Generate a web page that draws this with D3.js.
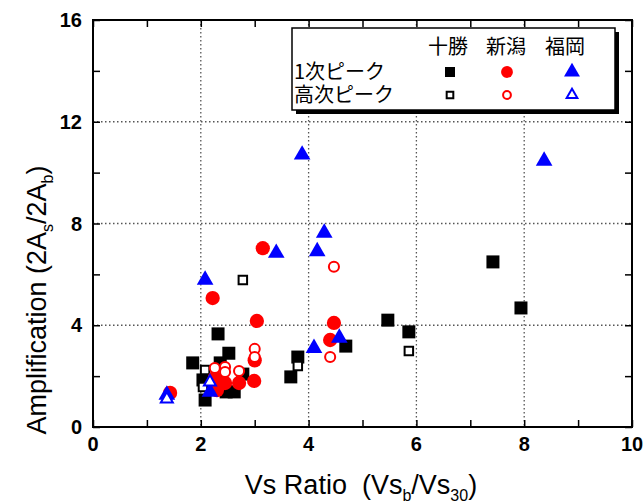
<!DOCTYPE html>
<html>
<head>
<meta charset="utf-8">
<script src="https://cdn.jsdelivr.net/npm/d3@7"></script>
<style>
  body { margin: 0; background: #fff; }
  text { font-family: "Liberation Sans", Arial, sans-serif; }
  .jp { font-family: "Noto Sans CJK JP", sans-serif; }
</style>
</head>
<body>
<svg id="chart" width="644" height="504"></svg>
<script>
// 十勝 1次ピーク (filled squares)
var tokachiPrimary = [
  [7.42, 6.49], [7.94, 4.68], [5.47, 4.20], [5.86, 3.74], [4.69, 3.18],
  [3.80, 2.75], [3.67, 1.97], [1.85, 2.52], [2.32, 3.66], [2.52, 2.90],
  [2.36, 2.52], [2.78, 2.08], [2.08, 1.06], [2.47, 1.38], [2.62, 1.38],
  [2.04, 1.85], [2.30, 1.75]
];
// 十勝 高次ピーク (open squares)
var tokachiHigher = [
  [2.78, 5.78], [5.86, 2.99], [3.80, 2.40], [2.08, 2.24], [2.04, 1.57]
];
// 新潟 1次ピーク (filled circles)
var niigataPrimary = [
  [3.15, 7.03], [2.22, 5.07], [3.04, 4.17], [4.47, 4.09], [4.40, 3.42],
  [2.99, 1.81], [2.71, 1.73], [2.45, 1.73], [2.26, 1.93], [2.30, 1.45],
  [1.43, 1.34], [3.00, 2.62]
];
// 新潟 高次ピーク (open circles)
var niigataHigher = [
  [4.47, 6.30], [4.40, 2.75], [3.00, 3.07], [3.00, 2.75], [2.26, 2.32],
  [2.45, 2.36], [2.45, 2.16], [2.71, 2.20]
];
// 福岡 1次ピーク (filled triangles)
var fukuokaPrimary = [
  [3.88, 10.70], [8.37, 10.46], [2.08, 5.78], [3.40, 6.84], [4.29, 7.63],
  [4.16, 6.90], [4.10, 3.10], [4.57, 3.50], [2.17, 1.38], [1.37, 1.26]
];
// 福岡 高次ピーク (open triangles)
var fukuokaHigher = [
  [2.17, 1.77], [1.37, 1.10]
];

var xTicks = [0, 2, 4, 6, 8, 10];
var yTicks = [0, 4, 8, 12, 16];
var regions = ['十勝', '新潟', '福岡'];
var peakLabels = ['1次ピーク', '高次ピーク'];

var svg = d3.select('#chart');
var plotL = 93, plotR = 632, plotT = 20, plotB = 427;

var x = d3.scaleLinear().domain([0, 10]).range([plotL, plotR]);
var y = d3.scaleLinear().domain([0, 16]).range([plotB, plotT]);

// dotted grid
var grid = svg.append('g');
grid.selectAll('line.gx')
  .data([2, 4, 6, 8])
  .enter().append('line')
    .attr('x1', function(d) { return x(d); }).attr('x2', function(d) { return x(d); })
    .attr('y1', plotT).attr('y2', plotB)
    .attr('stroke', '#555').attr('stroke-width', 1.3).attr('stroke-dasharray', '1.5,2.5');
grid.selectAll('line.gy')
  .data([4, 8, 12])
  .enter().append('line')
    .attr('y1', function(d) { return y(d); }).attr('y2', function(d) { return y(d); })
    .attr('x1', plotL).attr('x2', plotR)
    .attr('stroke', '#555').attr('stroke-width', 1.3).attr('stroke-dasharray', '1.5,2.5');

// axes with inward ticks on all four sides
var xMinor = d3.range(0, 11, 1), yMinor = d3.range(0, 17, 2);
svg.append('g').attr('transform', 'translate(0,' + plotB + ')')
  .call(d3.axisBottom(x).tickValues(xMinor).tickSize(-7).tickFormat(''));
svg.append('g').attr('transform', 'translate(0,' + plotT + ')')
  .call(d3.axisTop(x).tickValues(xMinor).tickSize(-7).tickFormat(''));
svg.append('g').attr('transform', 'translate(' + plotL + ',0)')
  .call(d3.axisLeft(y).tickValues(yMinor).tickSize(-7).tickFormat(''));
svg.append('g').attr('transform', 'translate(' + plotR + ',0)')
  .call(d3.axisRight(y).tickValues(yMinor).tickSize(-7).tickFormat(''));
svg.selectAll('.domain').remove();
svg.selectAll('.tick line').attr('stroke', '#000').attr('stroke-width', 1.5);

svg.append('rect')
  .attr('x', plotL).attr('y', plotT)
  .attr('width', plotR - plotL).attr('height', plotB - plotT)
  .attr('fill', 'none').attr('stroke', '#000').attr('stroke-width', 2);

// tick labels
svg.selectAll('text.xt')
  .data(xTicks)
  .enter().append('text')
    .attr('x', function(d) { return x(d); })
    .attr('y', 451)
    .attr('text-anchor', 'middle')
    .attr('font-size', 20).attr('font-weight', 'bold')
    .text(function(d) { return d; });
svg.selectAll('text.yt')
  .data(yTicks)
  .enter().append('text')
    .attr('x', 82)
    .attr('y', function(d) { return y(d) + 7; })
    .attr('text-anchor', 'end')
    .attr('font-size', 20).attr('font-weight', 'bold')
    .text(function(d) { return d; });

// axis titles
var xt = svg.append('text')
  .attr('x', 361).attr('y', 494)
  .attr('text-anchor', 'middle').attr('font-size', 27);
xt.append('tspan').text('Vs Ratio\u00a0\u00a0(Vs');
xt.append('tspan').attr('font-size', 16).attr('dy', 7).text('b');
xt.append('tspan').attr('dy', -7).text('/Vs');
xt.append('tspan').attr('font-size', 16).attr('dy', 7).text('30');
xt.append('tspan').attr('dy', -7).text(')');

var yt = svg.append('text')
  .attr('transform', 'translate(46,300) rotate(-90)')
  .attr('text-anchor', 'middle').attr('font-size', 27);
yt.append('tspan').text('Amplification\u00a0(2A');
yt.append('tspan').attr('font-size', 16).attr('dy', 7).text('s');
yt.append('tspan').attr('dy', -7).text('/2A');
yt.append('tspan').attr('font-size', 16).attr('dy', 7).text('b');
yt.append('tspan').attr('dy', -7).text(')');

// markers
var styles = [
  { data: tokachiPrimary, type: d3.symbolSquare, size: 169, fill: '#000', stroke: 'none' },
  { data: tokachiHigher, type: d3.symbolSquare, size: 72, fill: '#fff', stroke: '#000' },
  { data: niigataPrimary, type: d3.symbolCircle, size: 160, fill: '#f00', stroke: 'none' },
  { data: niigataHigher, type: d3.symbolCircle, size: 80, fill: '#fff', stroke: '#f00' },
  { data: fukuokaPrimary, type: d3.symbolTriangle, size: 120, fill: '#00f', stroke: 'none' },
  { data: fukuokaHigher, type: d3.symbolTriangle, size: 62, fill: '#fff', stroke: '#00f' }
];

var marks = svg.append('g');
styles.forEach(function(s) {
  marks.selectAll(null)
    .data(s.data)
    .enter().append('path')
      .attr('d', d3.symbol().type(s.type).size(s.size))
      .attr('transform', function(d) { return 'translate(' + x(d[0]) + ',' + y(d[1]) + ')'; })
      .attr('fill', s.fill)
      .attr('stroke', s.stroke)
      .attr('stroke-width', 2);
});

// legend
var lg = svg.append('g');
lg.append('rect').attr('x', 296).attr('y', 32).attr('width', 323).attr('height', 82).attr('fill', '#000');
lg.append('rect').attr('x', 292).attr('y', 28).attr('width', 323).attr('height', 82)
  .attr('fill', '#fff').attr('stroke', '#000').attr('stroke-width', 1.5);

var colX = [448, 506, 565];
lg.selectAll('text.rg')
  .data(regions)
  .enter().append('text')
    .attr('class', 'jp')
    .attr('x', function(d, i) { return colX[i]; })
    .attr('y', 54)
    .attr('text-anchor', 'middle').attr('font-size', 20)
    .text(function(d) { return d; });
lg.selectAll('text.pk')
  .data(peakLabels)
  .enter().append('text')
    .attr('class', 'jp')
    .attr('x', 294)
    .attr('y', function(d, i) { return 79 + i * 23; })
    .attr('font-size', 20)
    .text(function(d) { return d; });

var legendSizes = [100, 44, 110, 48, 110, 50];
var markX = [450, 507, 572];
styles.forEach(function(s, i) {
  var col = Math.floor(i / 2), row = i % 2;
  lg.append('path')
    .attr('d', d3.symbol().type(s.type).size(legendSizes[i]))
    .attr('transform', 'translate(' + markX[col] + ',' + (72 + row * 23) + ')')
    .attr('fill', s.fill)
    .attr('stroke', s.stroke)
    .attr('stroke-width', 2);
});
</script>
</body>
</html>
